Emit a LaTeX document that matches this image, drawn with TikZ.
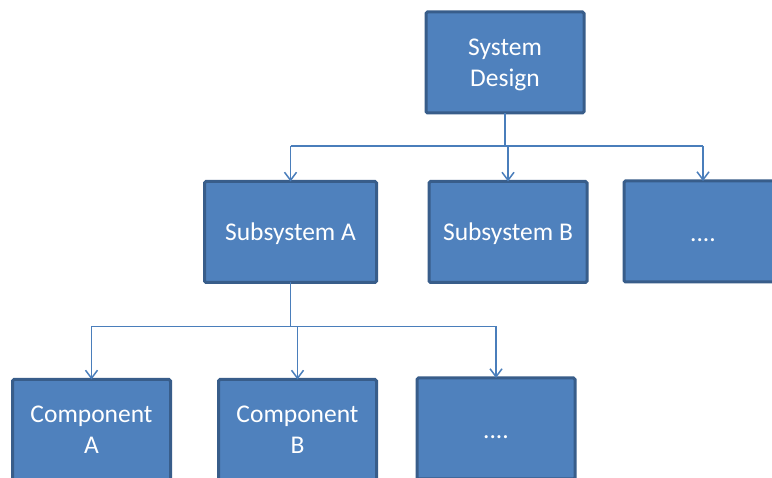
\documentclass[tikz,border=0pt]{standalone}
\usepackage{fontspec}
\setmainfont{Carlito}
\usetikzlibrary{arrows.meta}
\definecolor{boxfill}{HTML}{4F81BD}
\definecolor{boxline}{HTML}{385D8A}
\definecolor{linkcol}{HTML}{4A7EBB}
\tikzset{
  unit/.style={draw=boxline, line width=3pt, fill=boxfill, rounded corners=1.5pt,
    minimum width=158pt, minimum height=101pt, inner sep=0pt, outer sep=0pt,
    text depth=0pt,
    text=white, align=center, font=\fontsize{25.5}{31}\selectfont},
  dots/.style={unit, text height=20pt},
  link/.style={draw=linkcol, line width=1.5pt},
  arrowlink/.style={link, -{Straight Barb[length=8pt,width=12pt,line width=1.5pt]}}
}
\begin{document}
\begin{tikzpicture}[x=1pt,y=-1pt]
  \useasboundingbox (0,0) rectangle (772,478);
  \clip (0,0) rectangle (772,478);
  \fill[white] (0,0) rectangle (772,478);

  % top level
  \node[unit] (sys) at (505,62.5) {System\\Design};

  % subsystems
  \node[unit, minimum width=172pt] (sa) at (290.5,232) {Subsystem A};
  \node[unit] (sb) at (508,232) {Subsystem B};
  \node[dots] (sm) at (703,231.5) {....};

  % components
  \node[unit] (ca) at (91.5,430) {Component\\A};
  \node[unit] (cb) at (297.5,430) {Component\\B};
  \node[dots] (cm) at (496,428.5) {....};

  % system -> subsystems
  \draw[link] (sys.south) -- ++(0,33) coordinate (bus1);
  \draw[link] (sa.north |- bus1) -- (sm.north |- bus1);
  \draw[arrowlink] (sa.north |- bus1) -- (sa.north);
  \draw[arrowlink] (sb.north |- bus1) -- (sb.north);
  \draw[arrowlink] (sm.north |- bus1) -- (sm.north);

  % subsystem A -> components
  \draw[link] (sa.south) -- ++(0,44) coordinate (bus2);
  \draw[link] (ca.north |- bus2) -- (cm.north |- bus2);
  \draw[arrowlink] (ca.north |- bus2) -- (ca.north);
  \draw[arrowlink] (cb.north |- bus2) -- (cb.north);
  \draw[arrowlink] (cm.north |- bus2) -- (cm.north);
\end{tikzpicture}
\end{document}
